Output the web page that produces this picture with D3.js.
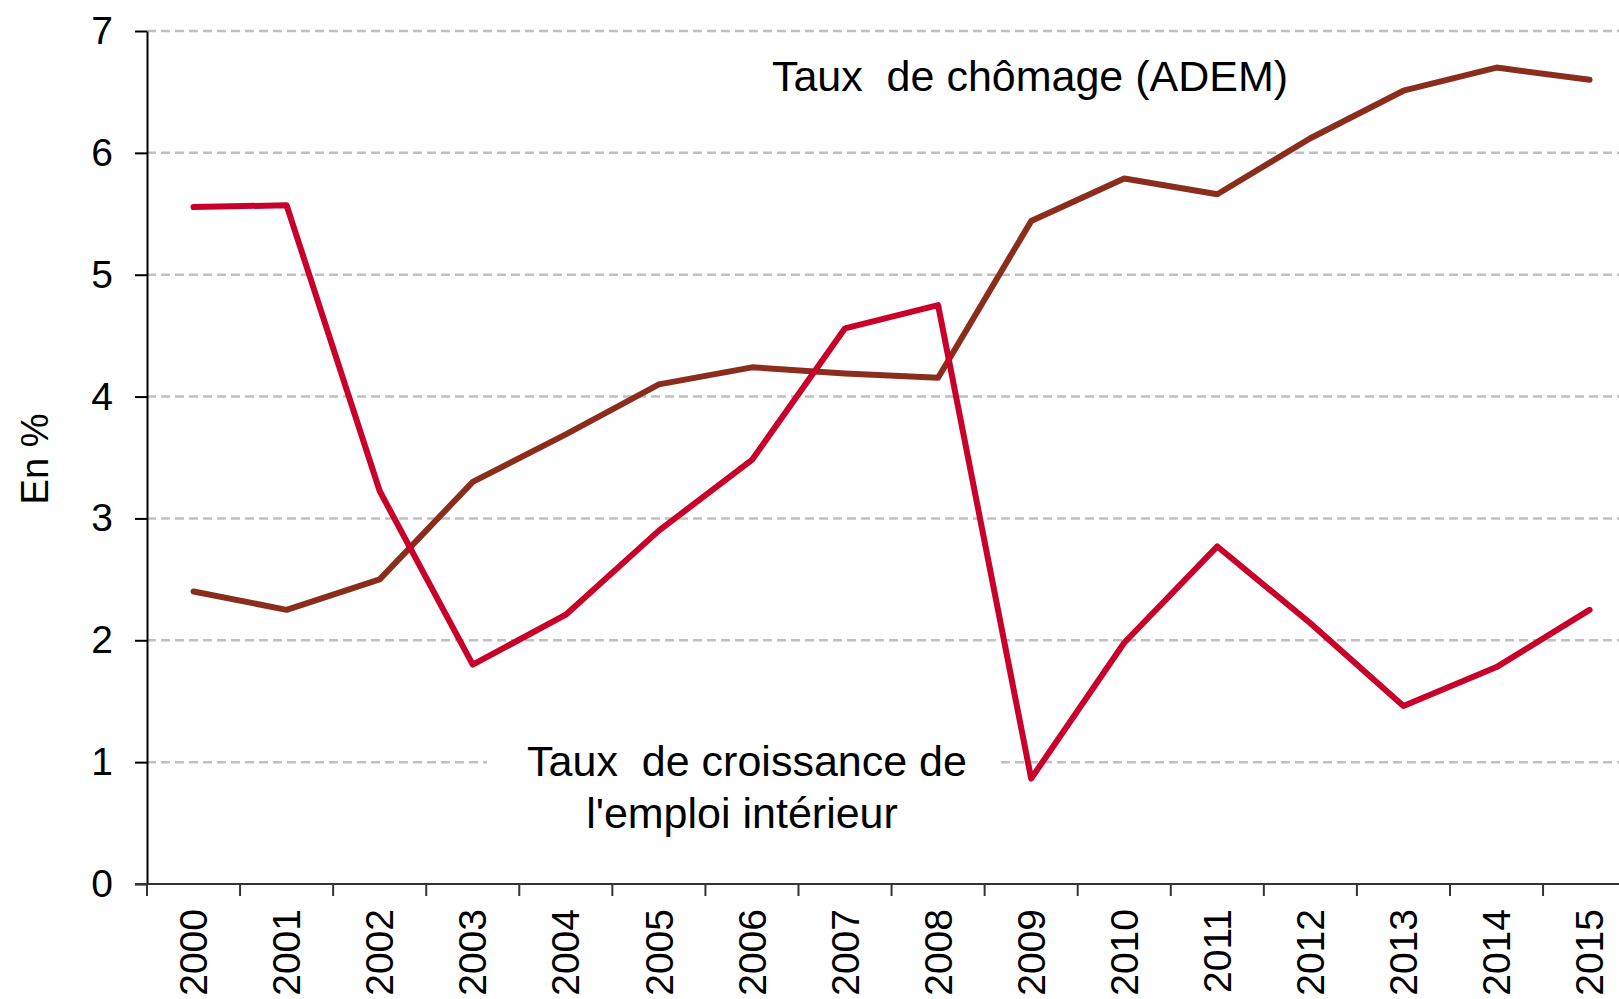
<!DOCTYPE html>
<meta charset="utf-8">
<html>
<head>
  <title>Chômage et emploi</title>
  <script src="https://d3js.org/d3.v7.min.js"></script>
  <style>
    body { margin: 0; background: #fff; }
    text { font-family: "Liberation Sans", Arial, sans-serif; fill: #000; }
    .grid line { stroke: #c0c0c0; stroke-width: 2.5; stroke-dasharray: 9,5; }
    .lab { white-space: pre; }
  </style>
</head>
<body>
<div id="chart"></div>
<script>
// data (en %)
var years = ["2000","2001","2002","2003","2004","2005","2006","2007",
             "2008","2009","2010","2011","2012","2013","2014","2015"];
var chomage = [2.40, 2.25, 2.50, 3.30, 3.69, 4.10, 4.24, 4.19,
               4.155, 5.44, 5.79, 5.66, 6.12, 6.51, 6.70, 6.60];
var emploi = [5.555, 5.57, 3.225, 1.80, 2.21, 2.90, 3.48, 4.56,
              4.75, 0.865, 1.98, 2.77, 2.14, 1.46, 1.78, 2.25];
var yTicks = [0, 1, 2, 3, 4, 5, 6, 7];

var W = 1619, H = 999;
var x0 = 147, step = 93.07, yBottom = 884, yTop = 31;

var svg = d3.select("#chart").append("svg")
    .attr("width", W).attr("height", H);

var x = d3.scaleBand()
    .domain(years)
    .range([x0, x0 + step * years.length])
    .paddingInner(0).paddingOuter(0);

var y = d3.scaleLinear()
    .domain([0, 7])
    .range([yBottom, yTop]);

// dashed horizontal gridlines
svg.append("g").attr("class", "grid")
  .selectAll("line")
  .data(yTicks.filter(function(d) { return d > 0; }))
  .enter().append("line")
    .attr("x1", x0).attr("x2", W)
    .attr("y1", function(d) { return y(d); })
    .attr("y2", function(d) { return y(d); });

// y axis
var yAxis = svg.append("g")
    .attr("transform", "translate(" + x0 + ",0)")
    .call(d3.axisLeft(y).tickValues(yTicks).tickFormat(d3.format("d"))
      .tickSize(12).tickPadding(22).tickSizeOuter(0));
yAxis.select(".domain").attr("stroke", "#000").attr("stroke-width", 2);
yAxis.selectAll(".tick line").attr("stroke", "#000").attr("stroke-width", 2);
yAxis.selectAll("text").style("font-size", "39px").style("font-family", "Liberation Sans, Arial, sans-serif");

// x axis, ticks between categories
var xAxis = svg.append("g")
    .attr("transform", "translate(0," + yBottom + ")");
xAxis.append("line")
    .attr("x1", x0 - 12).attr("x2", W)
    .attr("y1", 0).attr("y2", 0)
    .attr("stroke", "#333").attr("stroke-width", 2);
xAxis.selectAll(".xtick")
  .data(years)
  .enter().append("line")
    .attr("class", "xtick")
    .attr("x1", function(d) { return x(d); })
    .attr("x2", function(d) { return x(d); })
    .attr("y1", 0).attr("y2", 12)
    .attr("stroke", "#333").attr("stroke-width", 2);
xAxis.selectAll(".xlab")
  .data(years)
  .enter().append("text")
    .attr("class", "xlab")
    .attr("transform", function(d) {
      return "translate(" + (x(d) + x.bandwidth() / 2) + ",25) rotate(-90)";
    })
    .attr("text-anchor", "end")
    .attr("dy", "0.35em")
    .style("font-size", "39px")
    .text(function(d) { return d; });

// axis title
svg.append("text")
    .attr("transform", "translate(35,459) rotate(-90)")
    .attr("text-anchor", "middle")
    .attr("dy", "0.35em")
    .style("font-size", "38px")
    .text("En %");

// lines
var line = function(vals) {
  return d3.line()
    .x(function(d, i) { return x(years[i]) + x.bandwidth() / 2; })
    .y(function(d) { return y(d); })(vals);
};

svg.append("path")
    .attr("d", line(chomage))
    .attr("fill", "none")
    .attr("stroke", "#8b2d1c")
    .attr("stroke-width", 6)
    .attr("stroke-linejoin", "round")
    .attr("stroke-linecap", "round");

svg.append("path")
    .attr("d", line(emploi))
    .attr("fill", "none")
    .attr("stroke", "#c8002a")
    .attr("stroke-width", 6)
    .attr("stroke-linejoin", "round")
    .attr("stroke-linecap", "round");

// labels
svg.append("text")
    .attr("class", "lab")
    .attr("x", 1030).attr("y", 91)
    .attr("text-anchor", "middle")
    .style("font-size", "43px")
    .text("Taux  de chômage (ADEM)");

svg.append("rect")
    .attr("x", 487).attr("y", y(1) - 4)
    .attr("width", 1001 - 487).attr("height", 8)
    .attr("fill", "#fff");

var lab2 = svg.append("text")
    .attr("class", "lab")
    .attr("text-anchor", "middle")
    .style("font-size", "43px");
lab2.append("tspan").attr("x", 747).attr("y", 776).text("Taux  de croissance de");
lab2.append("tspan").attr("x", 742).attr("y", 828).text("l'emploi intérieur");
</script>
</body>
</html>
